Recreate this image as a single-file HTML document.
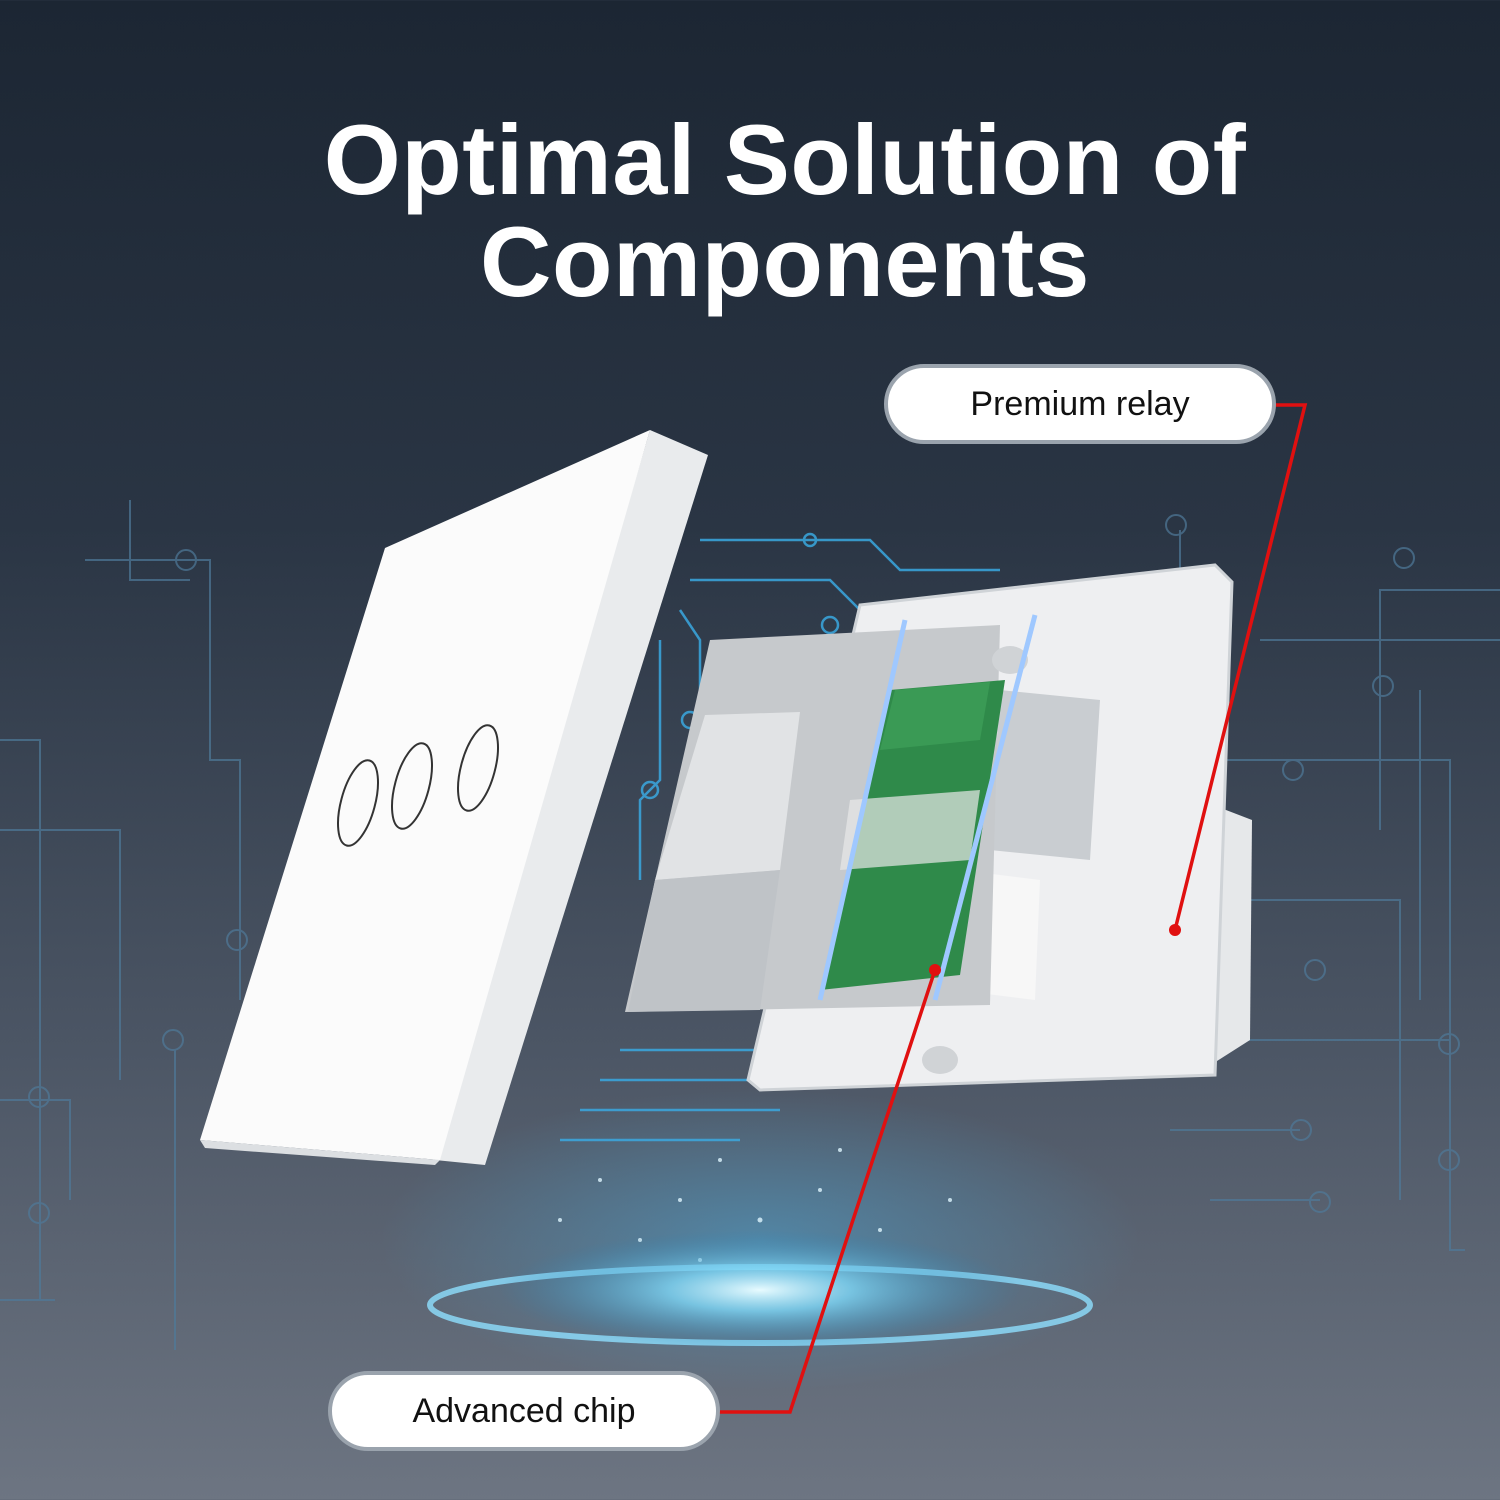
<!DOCTYPE html>
<html><head><style>
html,body{margin:0;padding:0}
body{width:1500px;height:1500px;overflow:hidden;position:relative;font-family:"Liberation Sans",sans-serif;
background:linear-gradient(180deg,#1c2633 0%,#2a3544 35%,#4c5665 70%,#6d7582 100%);}
.t{position:absolute;left:0;width:1570px;text-align:center;color:#fff;font-weight:bold;font-size:99px;letter-spacing:0.5px;line-height:100px}
.pill{position:absolute;background:#fff;border:4px solid #9aa3ad;border-radius:40px;box-sizing:border-box;color:#111;font-size:34px;text-align:center}
</style></head><body>
<svg width="1500" height="1500" style="position:absolute;left:0;top:0">
<defs>
<radialGradient id="g" cx="50%" cy="50%" r="50%"><stop offset="0" stop-color="#e8fbff"/><stop offset="0.35" stop-color="#7fd6f5" stop-opacity="0.8"/><stop offset="1" stop-color="#2a7fb0" stop-opacity="0"/></radialGradient>
<radialGradient id="g2" cx="50%" cy="50%" r="50%"><stop offset="0" stop-color="#4aa8d8" stop-opacity="0.5"/><stop offset="1" stop-color="#4aa8d8" stop-opacity="0"/></radialGradient>
</defs>
<g stroke="#4f7a9a" stroke-width="2" fill="none" opacity="0.7">
<path d="M0 740 H40 V1300 M0 830 H120 V1080 M85 560 H210 V760 H240 V1000 M130 500 V580 H190 M0 1100 H70 V1200 M0 1300 H55 M175 1050 V1350 M1500 590 H1380 V830 M1210 760 H1450 V1250 H1465 M1260 640 H1500 M1220 900 H1400 V1200 M1210 1040 H1450 M1170 1130 H1300 M1210 1200 H1320 M1180 530 V1000 M1420 690 V1000"/>
<circle cx="1404" cy="558" r="10"/><circle cx="1383" cy="686" r="10"/><circle cx="1293" cy="770" r="10"/><circle cx="1315" cy="970" r="10"/><circle cx="1449" cy="1044" r="10"/><circle cx="1449" cy="1160" r="10"/><circle cx="1301" cy="1130" r="10"/><circle cx="1320" cy="1202" r="10"/><circle cx="1176" cy="525" r="10"/>
<circle cx="186" cy="560" r="10"/><circle cx="237" cy="940" r="10"/><circle cx="173" cy="1040" r="10"/><circle cx="39" cy="1097" r="10"/><circle cx="39" cy="1213" r="10"/>
</g>
<g stroke="#3aa8e0" stroke-width="2.5" fill="none" opacity="0.85">
<path d="M700 540 H870 L900 570 H1000 M690 580 H830 L860 610 H940 M680 610 L700 640 V720 M660 640 V780 L640 800 V880 M700 760 V830 L680 850 V1000 M620 1050 H760 M600 1080 H800 M580 1110 H780 M560 1140 H740"/>
<circle cx="810" cy="540" r="6"/><circle cx="690" cy="720" r="8"/><circle cx="650" cy="790" r="8"/><circle cx="830" cy="625" r="8"/>
</g>
<ellipse cx="760" cy="1240" rx="380" ry="150" fill="url(#g2)"/>
<g fill="#dff6ff" opacity="0.8">
<circle cx="600" cy="1180" r="2"/><circle cx="680" cy="1200" r="2"/><circle cx="720" cy="1160" r="2"/><circle cx="820" cy="1190" r="2"/><circle cx="880" cy="1230" r="2"/><circle cx="640" cy="1240" r="2"/><circle cx="760" cy="1220" r="2.5"/><circle cx="950" cy="1200" r="2"/><circle cx="560" cy="1220" r="2"/><circle cx="700" cy="1260" r="2"/><circle cx="840" cy="1150" r="2"/>
</g>
<ellipse cx="760" cy="1305" rx="330" ry="38" fill="none" stroke="#8ee0ff" stroke-width="6" opacity="0.8"/>
<ellipse cx="760" cy="1290" rx="260" ry="60" fill="url(#g)"/>
<polygon points="1200,800 1252,820 1250,1040 1195,1075" fill="#e6e8ea"/>
<polygon points="860,605 1215,565 1232,582 1215,1075 760,1090 748,1080" fill="#eeeff1" stroke="#cfd3d7" stroke-width="3"/>
<polygon points="1000,690 1100,700 1090,860 990,850" fill="#c9cdd1"/>
<polygon points="960,870 1040,880 1035,1000 955,990" fill="#f7f7f7"/>
<polygon points="710,640 1000,625 990,1005 625,1012" fill="#c6c9cc"/>
<polygon points="705,715 800,712 780,870 655,880" fill="#e1e3e5"/>
<polygon points="655,880 780,870 760,1010 628,1012" fill="#bfc3c7"/>
<polygon points="890,690 1005,680 960,975 820,990" fill="#2f8a4a"/>
<polygon points="895,690 990,682 980,740 880,750" fill="#3a9a55"/>
<polygon points="850,800 980,790 970,860 840,870" fill="#e8e8e8" opacity="0.7"/>
<ellipse cx="1010" cy="660" rx="18" ry="14" fill="#d0d3d6"/>
<ellipse cx="940" cy="1060" rx="18" ry="14" fill="#d0d3d6"/>
<line x1="905" y1="620" x2="820" y2="1000" stroke="#9fc8ff" stroke-width="5"/>
<line x1="1035" y1="615" x2="935" y2="1000" stroke="#9fc8ff" stroke-width="5"/>
<polygon points="650,430 708,455 485,1165 435,1160" fill="#e9ebed"/>
<polygon points="385,548 650,430 440,1160 200,1140" fill="#fbfbfb"/>
<polygon points="200,1140 440,1160 435,1165 205,1148" fill="#dcdfe2"/>
<g fill="none" stroke="#333" stroke-width="2">
<ellipse cx="358" cy="803" rx="17" ry="44" transform="rotate(15 358 803)"/>
<ellipse cx="412" cy="786" rx="17" ry="44" transform="rotate(15 412 786)"/>
<ellipse cx="478" cy="768" rx="17" ry="44" transform="rotate(15 478 768)"/>
</g>
<g stroke="#e01010" stroke-width="3.5" fill="none">
<polyline points="1275,405 1305,405 1175,930"/>
<polyline points="718,1412 790,1412 935,970"/>
</g>
<circle cx="1175" cy="930" r="6" fill="#e01010"/>
<circle cx="935" cy="970" r="6" fill="#e01010"/>
</svg>
<div class="t" style="top:110px">Optimal Solution of</div>
<div class="t" style="top:212px">Components</div>
<div class="pill" style="left:884px;top:364px;width:392px;height:80px;line-height:72px">Premium relay</div>
<div class="pill" style="left:328px;top:1371px;width:392px;height:80px;line-height:72px">Advanced chip</div>
</body></html>
